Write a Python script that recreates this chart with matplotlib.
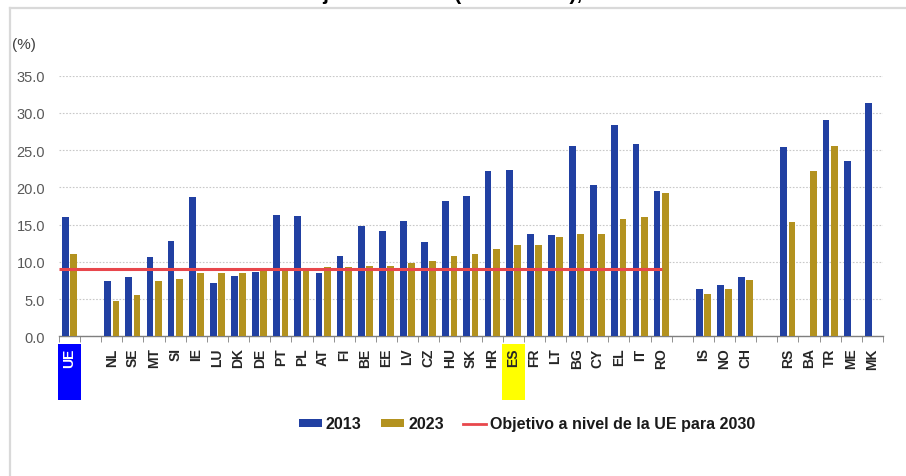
#!/usr/bin/env python3
"""
Bar chart: rate per country (18-24), 2013 vs 2023, with the EU 2030 target line.
"""

import numpy as np
import matplotlib.pyplot as plt
import matplotlib.transforms as mtransforms
from matplotlib.patches import Patch, Rectangle
from matplotlib.lines import Line2D

# Categories ('' = empty slot between groups)
categories = ['UE', '',
              'NL', 'SE', 'MT', 'SI', 'IE', 'LU', 'DK', 'DE', 'PT', 'PL', 'AT', 'FI',
              'BE', 'EE', 'LV', 'CZ', 'HU', 'SK', 'HR', 'ES', 'FR', 'LT', 'BG', 'CY',
              'EL', 'IT', 'RO', '',
              'IS', 'NO', 'CH', '',
              'RS', 'BA', 'TR', 'ME', 'MK']

nan = np.nan
values_2013 = [16.0, nan,
               7.4, 7.9, 10.7, 12.8, 18.75, 7.2, 8.1, 8.6, 16.3, 16.1, 8.5, 10.8,
               14.8, 14.2, 15.5, 12.7, 18.2, 18.9, 22.2, 22.3, 13.7, 13.6, 25.5, 20.3,
               28.4, 25.8, 19.5, nan,
               6.35, 6.9, 7.9, nan,
               25.4, nan, 29.1, 23.5, 31.3]
values_2023 = [11.1, nan,
               4.7, 5.5, 7.4, 7.7, 8.5, 8.5, 8.5, 8.9, 9.0, 9.0, 9.35, 9.35,
               9.5, 9.5, 9.9, 10.1, 10.8, 11.1, 11.7, 12.2, 12.2, 13.4, 13.7, 13.7,
               15.8, 16.0, 19.2, nan,
               5.7, 6.35, 7.6, nan,
               15.3, 22.2, 25.6, nan, nan]

target_2030 = 9.0
series_labels = ['2013', '2023', 'Objetivo a nivel de la UE para 2030']
yticks = [0, 5, 10, 15, 20, 25, 30, 35]

# Colors
BLUE = '#2140A2'
GOLD = '#B3921F'
RED = '#E8474C'


def main():
    plt.rcParams['font.family'] = ['Liberation Sans', 'DejaVu Sans']

    fig = plt.figure(figsize=(9.06, 4.77), dpi=100)
    ax = fig.add_axes([0.0651, 0.2929, 0.9095, 0.5463])

    x = np.arange(len(categories))
    width = 0.32
    offset = 0.195

    ax.bar(x - offset, values_2013, width, color=BLUE, zorder=3)
    ax.bar(x + offset, values_2023, width, color=GOLD, zorder=3)

    # EU target line, runs over the EU + member states block only
    ax.hlines(target_2030, -0.5, 28.05, color=RED, linewidth=2.2, zorder=4)

    # Axes
    ax.set_xlim(-0.5, len(categories) - 0.5)
    ax.set_ylim(0, 35)
    ax.set_yticks(yticks)
    ax.set_yticklabels([f'{v:.1f}' for v in yticks], color='#595959', fontsize=10.5)
    ax.tick_params(axis='y', length=0, pad=10)
    ax.grid(axis='y', color='#c8c8c8', linestyle=(0, (1.5, 1.5)), linewidth=0.8, zorder=0)

    for side in ['top', 'right', 'left']:
        ax.spines[side].set_visible(False)
    ax.spines['bottom'].set_color('#7f7f7f')
    ax.spines['bottom'].set_linewidth(1.0)

    # Labels at category centres, small ticks at slot boundaries
    lab_idx = [i for i, c in enumerate(categories) if c]
    ax.set_xticks(lab_idx)
    ax.set_xticklabels([categories[i] for i in lab_idx], rotation=90,
                       fontsize=10, fontweight='bold', color='#262626', va='top')
    ax.tick_params(axis='x', which='major', length=0, pad=8)
    ax.set_xticks(np.arange(-0.5, len(categories)), minor=True)
    ax.tick_params(axis='x', which='minor', length=4, color='#7f7f7f', direction='out')

    for lbl in ax.get_xticklabels():
        if lbl.get_text() == 'UE':
            lbl.set_color('white')

    # Highlight boxes behind UE and ES labels
    trans = mtransforms.blended_transform_factory(ax.transData, fig.transFigure)
    y0 = 1 - 401 / 477
    y1 = 1 - 345 / 477
    for name, col in [('UE', '#0000FF'), ('ES', '#FFFF00')]:
        i = categories.index(name)
        ax.add_patch(Rectangle((i - 0.55, y0), 1.1, y1 - y0, transform=trans,
                               facecolor=col, edgecolor='none', clip_on=False, zorder=1))

    # Unit label and heading (cut off by the top edge, as in the source image)
    fig.text(12 / 906, 1 - 45 / 477, '(%)', fontsize=11, color='#404040', va='center')
    fig.text(465 / 906, 1 - 0.5 / 477, 'Tasa de jóvenes NINI (18-24 años), 2013-2023',
             fontsize=15, fontweight='bold', ha='center', va='baseline', color='black')

    # Outer frame (left and top edges)
    fig.add_artist(Line2D([10 / 906, 10 / 906], [0, 1 - 8.5 / 477],
                          transform=fig.transFigure, color='#d9d9d9', linewidth=1.6))
    fig.add_artist(Line2D([10 / 906, 1], [1 - 8.5 / 477, 1 - 8.5 / 477],
                          transform=fig.transFigure, color='#d9d9d9', linewidth=1.6))

    # Legend
    handles = [Patch(facecolor=BLUE, edgecolor='none'),
               Patch(facecolor=GOLD, edgecolor='none'),
               Line2D([], [], color=RED, linewidth=2)]
    fig.legend(handles, series_labels, loc='center', bbox_to_anchor=(527 / 906, 1 - 425 / 477),
               ncol=3, frameon=False, handlelength=1.45, handleheight=0.4,
               handletextpad=0.25, columnspacing=1.2,
               prop={'weight': 'bold', 'size': 11.5})
    for t in fig.legends[0].get_texts():
        t.set_color('#1a1a1a')

    fig.savefig('out.png', dpi=100)
    plt.close(fig)


if __name__ == '__main__':
    main()
